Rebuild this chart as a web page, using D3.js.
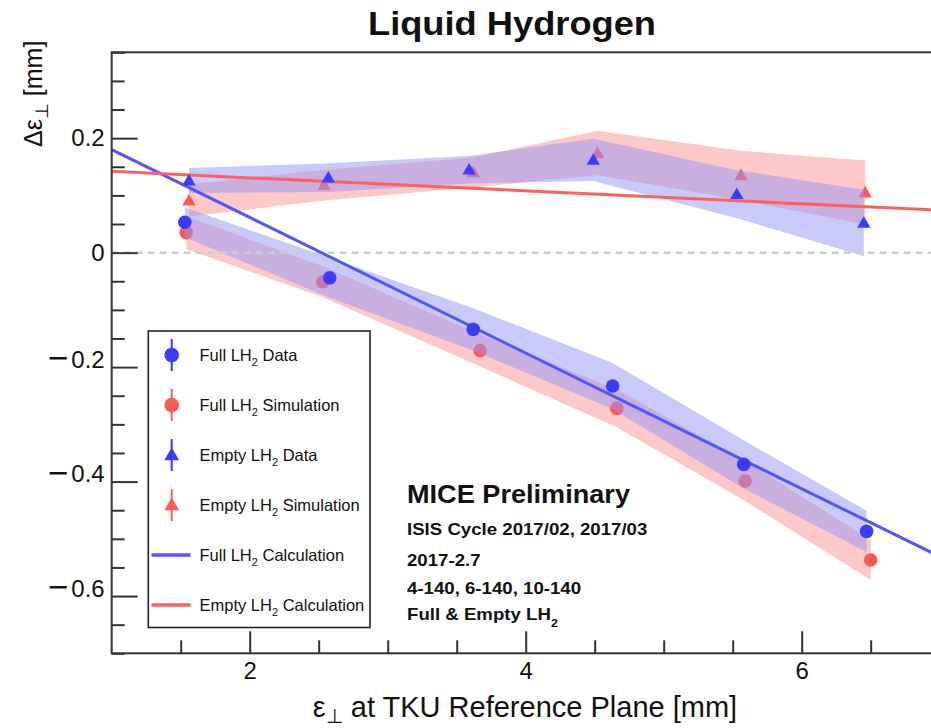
<!DOCTYPE html>
<html><head><meta charset="utf-8">
<script src="https://cdn.jsdelivr.net/npm/d3@7"></script>
<style>
body{margin:0;background:#fff}
svg{display:block}
text{font-family:"Liberation Sans",Arial,Helvetica,sans-serif;fill:#111}
</style>
</head><body>
<svg id="c" width="931" height="728"></svg>
<script>
// ---------- data ----------
const fullDataX   = [1.53, 2.58, 3.62, 4.63, 5.58, 6.47];
const fullData    = [0.053, -0.044, -0.134, -0.233, -0.370, -0.487];
const fullDataErr = [0.026, 0.035, 0.037, 0.040, 0.042, 0.036];

const fullSimX    = [1.54, 2.53, 3.67, 4.66, 5.59, 6.50];
const fullSim     = [0.035, -0.051, -0.171, -0.272, -0.399, -0.537];
const fullSimErr  = [0.029, 0.027, 0.028, 0.033, 0.035, 0.035];

const emptyDataX   = [1.56, 2.57, 3.59, 4.49, 5.53, 6.45];
const emptyData    = [0.126, 0.131, 0.145, 0.162, 0.102, 0.052];
const emptyDataErr = [0.022, 0.025, 0.024, 0.037, 0.042, 0.058];

const emptySimX    = [1.56, 2.54, 3.62, 4.52, 5.56, 6.46];
const emptySim     = [0.091, 0.118, 0.140, 0.174, 0.135, 0.105];
const emptySimErr  = [0.028, 0.027, 0.026, 0.039, 0.043, 0.056];

const calcX     = [1.0, 7.0];
const fullCalc  = [0.180, -0.531];
const emptyCalc = [0.142, 0.074];

const xMajor = [2, 4, 6];
const yMajor = [-0.6, -0.4, -0.2, 0, 0.2];

const legendLabels = [
  ["Full LH", "2", " Data"],
  ["Full LH", "2", " Simulation"],
  ["Empty LH", "2", " Data"],
  ["Empty LH", "2", " Simulation"],
  ["Full LH", "2", " Calculation"],
  ["Empty LH", "2", " Calculation"]
];
const infoLines = ["ISIS Cycle 2017/02, 2017/03", "2017-2.7", "4-140, 6-140, 10-140"];

// ---------- setup ----------
const svg = d3.select("#c");
const L = 111.7, R = 939.7, T = 52.3, B = 653.3;
const x = d3.scaleLinear().domain([1, 7]).range([L, R]);
const y = d3.scaleLinear().domain([-0.70, 0.35]).range([B, T]);

const BLUE = "#3b3bff", RED = "#ff5858";
const zip = (xs, ys, es) => xs.map((v, i) => ({x: v, y: ys[i], e: es ? es[i] : 0}));

const area = d3.area().x(d => x(d.x)).y0(d => y(d.y - d.e)).y1(d => y(d.y + d.e));

const plot = svg.append("g");
// red bands
[zip(fullSimX, fullSim, fullSimErr), zip(emptySimX, emptySim, emptySimErr)].forEach(d => {
  plot.append("path").attr("d", area(d)).attr("fill", "#fdc8c8");
});
// red points
const tri = d3.symbol().type(d3.symbolTriangle).size(78);
plot.append("g").selectAll("circle").data(zip(fullSimX, fullSim)).join("circle")
  .attr("cx", d => x(d.x)).attr("cy", d => y(d.y)).attr("r", 6.8).attr("fill", RED);
plot.append("g").selectAll("path").data(zip(emptySimX, emptySim)).join("path")
  .attr("d", tri).attr("transform", d => `translate(${x(d.x)},${y(d.y) + 1})`).attr("fill", RED);
// blue bands
[zip(fullDataX, fullData, fullDataErr), zip(emptyDataX, emptyData, emptyDataErr)].forEach(d => {
  plot.append("path").attr("d", area(d)).attr("fill", "rgb(150,150,245)").attr("fill-opacity", 0.5);
});
// zero line
plot.append("line").attr("x1", x(1)).attr("x2", x(7)).attr("y1", y(0)).attr("y2", y(0))
  .attr("stroke", "#c5d0d0").attr("stroke-width", 2.5).attr("stroke-dasharray", "7,5");
// calc lines
const line = d3.line().x(d => x(d.x)).y(d => y(d.y));
plot.append("path").attr("d", line(zip(calcX, fullCalc))).attr("fill", "none")
  .attr("stroke", "#5555ff").attr("stroke-width", 3);
plot.append("path").attr("d", line(zip(calcX, emptyCalc))).attr("fill", "none")
  .attr("stroke", "#ff5f5f").attr("stroke-width", 3);
// blue points
plot.append("g").selectAll("circle").data(zip(fullDataX, fullData)).join("circle")
  .attr("cx", d => x(d.x)).attr("cy", d => y(d.y)).attr("r", 6.8).attr("fill", BLUE);
plot.append("g").selectAll("path").data(zip(emptyDataX, emptyData)).join("path")
  .attr("d", tri).attr("transform", d => `translate(${x(d.x)},${y(d.y) + 1})`).attr("fill", BLUE);

// ---------- axes ----------
const fmt = d => d === 0 ? "0" : d3.format(".1f")(d);
const yMinor = d3.range(-14, 8).map(i => +(i * 0.05).toFixed(2)).filter(v => !yMajor.some(m => Math.abs(m - v) < 1e-6));
const xMinor = d3.range(3, 14).map(i => i * 0.5).filter(v => !xMajor.includes(v));

function styleAxis(g) {
  g.select(".domain").remove();
  g.selectAll("line").attr("stroke", "#333").attr("stroke-width", 2);
  g.selectAll("text").attr("font-size", 24).attr("fill", "#111")
   .style("font-family", '"Liberation Sans",Arial,sans-serif');
}
svg.append("g").attr("transform", `translate(${L},0)`)
  .call(d3.axisLeft(y).tickValues(yMinor).tickSize(-13).tickFormat("")).call(styleAxis);
const yMajG = svg.append("g").attr("transform", `translate(${L},0)`)
  .call(d3.axisLeft(y).tickValues(yMajor).tickSize(-26).tickPadding(7).tickFormat(fmt)).call(styleAxis);
// wider minus sign like the original
yMajG.selectAll("text").each(function(d) {
  if (d < 0) {
    const s = d3.select(this);
    s.text("");
    s.append("tspan").attr("font-size", 35).attr("dy", "0.32em").attr("dy", 2.5).text("\u2212");
    s.append("tspan").attr("dx", 3).attr("dy", -2.5).text(d3.format(".1f")(-d));
  }
});
svg.append("g").attr("transform", `translate(0,${B})`)
  .call(d3.axisBottom(x).tickValues(xMinor).tickSize(-13).tickFormat("")).call(styleAxis);
svg.append("g").attr("transform", `translate(0,${B})`)
  .call(d3.axisBottom(x).tickValues(xMajor).tickSize(-22).tickPadding(9).tickFormat(d3.format("d"))).call(styleAxis);

// frame
svg.append("rect").attr("x", L).attr("y", T).attr("width", R - L).attr("height", B - T)
  .attr("fill", "none").attr("stroke", "#333").attr("stroke-width", 2);

// ---------- titles ----------
svg.append("text").attr("x", 512).attr("y", 35).attr("text-anchor", "middle")
  .attr("font-size", 33).attr("font-weight", "bold").attr("textLength", 288)
  .attr("lengthAdjust", "spacingAndGlyphs").text("Liquid Hydrogen");

const xt = svg.append("text").attr("x", 525).attr("y", 717).attr("text-anchor", "middle").attr("font-size", 29);
xt.append("tspan").text("ε");
xt.append("tspan").attr("font-size", 20).attr("dy", 6).text("⊥");
xt.append("tspan").attr("dy", -6).text(" at TKU Reference Plane [mm]");

const yt = svg.append("text").attr("transform", "translate(42,147) rotate(-90)")
  .attr("text-anchor", "start").attr("font-size", 25);
yt.append("tspan").text("Δε");
yt.append("tspan").attr("font-size", 18).attr("dy", 6).text("⊥");
yt.append("tspan").attr("dy", -6).text(" [mm]");

// ---------- legend ----------
const lg = svg.append("g");
lg.append("rect").attr("x", 148.3).attr("y", 331).attr("width", 221.7).attr("height", 296.5)
  .attr("fill", "#fff").attr("stroke", "#222").attr("stroke-width", 1.6);
const legendKinds = ["circle", "circle", "tri", "tri", "line", "line"];
const legendCols = [BLUE, RED, BLUE, RED, "#5555ff", "#ff5f5f"];
legendLabels.forEach((lab, i) => {
  const cy = 355 + i * 50, cx = 171.7;
  const col = legendCols[i];
  if (legendKinds[i] === "line") {
    lg.append("line").attr("x1", 151.5).attr("x2", 190.5).attr("y1", cy).attr("y2", cy)
      .attr("stroke", col).attr("stroke-width", 3.5);
  } else {
    lg.append("line").attr("x1", cx).attr("x2", cx).attr("y1", cy - 16).attr("y2", cy + 16)
      .attr("stroke", col).attr("stroke-width", 2);
    if (legendKinds[i] === "circle") {
      lg.append("circle").attr("cx", cx).attr("cy", cy).attr("r", 7.3).attr("fill", col);
    } else {
      lg.append("path").attr("d", d3.symbol().type(d3.symbolTriangle).size(95)())
        .attr("transform", `translate(${cx},${cy + 1})`).attr("fill", col);
    }
  }
  const t = lg.append("text").attr("x", 199.5).attr("y", cy + 6).attr("font-size", 16.5);
  t.append("tspan").text(lab[0]);
  t.append("tspan").attr("font-size", 11).attr("dy", 5).text(lab[1]);
  t.append("tspan").attr("dy", -5).text(lab[2]);
});

// ---------- info text ----------
svg.append("text").attr("x", 407).attr("y", 503).attr("font-size", 25).attr("font-weight", "bold")
  .attr("textLength", 223).attr("lengthAdjust", "spacingAndGlyphs").text("MICE Preliminary");
const infoY = [535, 566, 593.5];
infoLines.forEach((s, i) => {
  svg.append("text").attr("transform", `translate(407,${infoY[i]}) scale(1.13,1)`)
    .attr("font-size", 16.5).attr("font-weight", "bold").text(s);
});
const fe = svg.append("text").attr("transform", "translate(407,620) scale(1.13,1)")
  .attr("font-size", 16.5).attr("font-weight", "bold");
fe.append("tspan").text("Full & Empty LH");
fe.append("tspan").attr("font-size", 11).attr("dy", 7).text("2");
</script>
</body></html>
